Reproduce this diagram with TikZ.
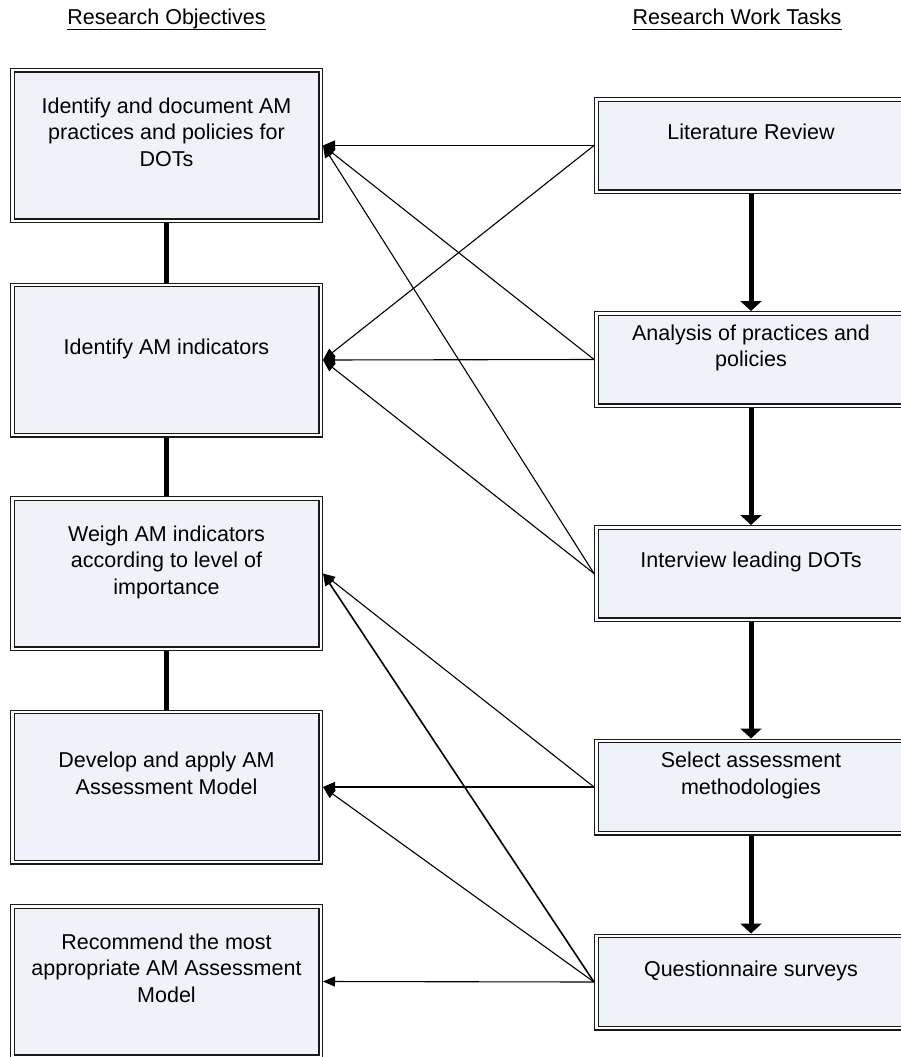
\documentclass[tikz,border=0pt]{standalone}
\usepackage{fontspec}
\setmainfont{Liberation Sans}
\usetikzlibrary{arrows.meta}
\definecolor{boxfill}{RGB}{239,243,249}
\definecolor{edge}{RGB}{25,25,25}
\begin{document}
\begin{tikzpicture}[x=1pt,y=-1pt,
  obox/.style={draw=edge, line width=1.1pt, double=white, double distance=2.4pt,
    fill=boxfill, minimum width=308.4pt, minimum height=150.4pt,
    outer sep=2.3pt, inner sep=0pt},
  tbox/.style={obox, minimum width=309.4pt, minimum height=92.4pt},
  txt/.style={align=center, font=\fontsize{21.5}{26.5}\selectfont, inner sep=0pt},
  head/.style={font=\fontsize{21.5}{26.5}\selectfont, inner sep=0pt, anchor=base},
  uline/.style={line width=1.1pt, draw=black},
  link/.style={draw=black, line width=1.1pt, -{Triangle[length=12pt,width=10pt]}},
  flow/.style={draw=black, line width=5pt, -{Triangle[length=10pt,width=21pt]}},
  chain/.style={draw=black, line width=5pt}
]
\useasboundingbox (0,0) rectangle (901,1057);

% headings
\node[head] (h1) at (166.5,25) {Research Objectives};
\node[head] (h2) at (737,25) {Research Work Tasks};
\draw[uline] ([yshift=-4.3pt]h1.base west) -- ([yshift=-4.3pt]h1.base east);
\draw[uline] ([yshift=-4.3pt]h2.base west) -- ([yshift=-4.3pt]h2.base east);

% objectives
\node[obox] (o1) at (166.5,145.5) {};
\node[obox] (o2) at (166.5,360) {};
\node[obox] (o3) at (166.5,573.5) {};
\node[obox] (o4) at (166.5,787) {};
\node[obox] (o5) at (166.5,981.5) {};

% tasks
\node[tbox] (r1) at (751,145.5) {};
\node[tbox] (r2) at (751,359.5) {};
\node[tbox] (r3) at (751,573.5) {};
\node[tbox] (r4) at (751,787) {};
\node[tbox] (r5) at (751,982) {};

% texts
\node[txt] (o1t) at ([yshift=11.1pt]o1.center) {\strut Identify and document AM\\\strut practices and policies for\\\strut DOTs};
\node[txt] (o2t) at ([yshift=11.1pt]o2.center) {\strut Identify AM indicators};
\node[txt] (o3t) at ([yshift=11.1pt]o3.center) {\strut Weigh AM indicators\\\strut according to level of\\\strut importance};
\node[txt] (o4t) at ([yshift=11.1pt]o4.center) {\strut Develop and apply AM\\\strut Assessment Model};
\node[txt] (o5t) at ([yshift=11.1pt]o5.center) {\strut Recommend the most\\\strut appropriate AM Assessment\\\strut Model};

\node[txt] (r1t) at ([yshift=11.1pt]r1.center) {\strut Literature Review};
\node[txt] (r2t) at ([yshift=11.1pt]r2.center) {\strut Analysis of practices and\\\strut policies};
\node[txt] (r3t) at ([yshift=11.1pt]r3.center) {\strut Interview leading DOTs};
\node[txt] (r4t) at ([yshift=11.1pt]r4.center) {\strut Select assessment\\\strut methodologies};
\node[txt] (r5t) at ([yshift=11.1pt]r5.center) {\strut Questionnaire surveys};

% left chain
\draw[chain] (o1.south) -- (o2.north);
\draw[chain] (o2.south) -- (o3.north);
\draw[chain] (o3.south) -- (o4.north);

% right flow
\draw[flow] (r1.south) -- (r2.north);
\draw[flow] (r2.south) -- (r3.north);
\draw[flow] (r3.south) -- (r4.north);
\draw[flow] (r4.south) -- (r5.north);

% links
\draw[link] (r1.west) -- (o1.east);
\draw[link] (r1.west) -- (o2.east);
\draw[link] (r2.west) -- (o1.east);
\draw[link] (r2.west) -- (o2.east);
\draw[link] (r3.west) -- (o1.east);
\draw[link] (r3.west) -- (o2.east);
\draw[link] (r4.west) -- (o3.east);
\draw[link] (r4.west) -- (o4.east);
\draw[link, line width=1.6pt] (r5.west) -- (o3.east);
\draw[link] (r5.west) -- (o4.east);
\draw[link] (r5.west) -- (o5.east);
\end{tikzpicture}
\end{document}
